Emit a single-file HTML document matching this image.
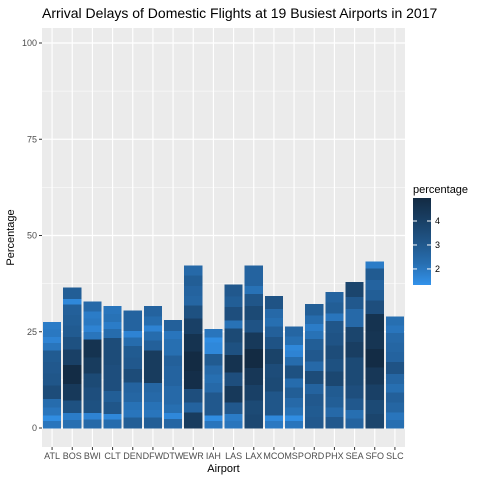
<!DOCTYPE html>
<html><head><meta charset="utf-8"><style>
body{margin:0;background:#fff;font-family:"Liberation Sans",sans-serif}
</style></head><body>
<svg id="chart" width="480" height="480" font-family="Liberation Sans, sans-serif"></svg>
<script>
const cats=["ATL","BOS","BWI","CLT","DEN","DFW","DTW","EWR","IAH","LAS","LAX","MCO","MSP","ORD","PHX","SEA","SFO","SLC"];
const seg_ATL=[2.0,1.4,2.0,2.3,3.5,3.1,3.0,2.9,2.0,1.6,1.9,1.8];
const seg_BOS=[2.2,1.8,3.3,4.3,4.9,4.0,3.3,2.9,2.8,2.7,1.5,2.8];
const seg_BWI=[2.4,1.6,3.3,3.4,3.6,4.2,4.6,2.0,1.6,1.9,1.8,2.4];
const seg_CLT=[2.3,1.5,3.1,2.8,3.4,3.4,3.5,3.5,2.3,1.8,2.1,2.0];
const seg_DEN=[2.8,2.0,2.1,2.5,2.6,3.5,3.0,2.9,2.3,1.6,2.6,2.6];
const seg_DFW=[2.8,2.0,2.1,2.4,2.5,4.2,4.2,2.7,2.3,1.6,2.3,2.6];
const seg_DTW=[2.5,1.5,2.2,2.4,2.4,2.6,2.6,2.7,2.2,2.2,2.0,2.7];
const seg_EWR=[4.2,2.6,3.4,4.8,5.0,4.6,4.0,3.3,2.5,2.6,2.8,2.4];
const seg_IAH=[2.0,1.4,3.0,3.0,2.4,2.2,2.4,2.9,1.5,1.5,1.4,2.0];
const seg_LAS=[2.0,1.8,3.0,4.3,3.4,4.6,3.3,3.6,2.1,3.4,2.8,3.0];
const seg_LAX=[3.7,3.6,4.0,4.4,5.0,4.3,3.2,3.6,3.1,2.1,2.6,2.6];
const seg_MCO=[1.9,1.5,3.1,3.1,3.6,3.5,3.9,3.2,2.7,2.2,2.4,3.2];
const seg_MSP=[2.0,1.4,2.1,2.4,2.8,2.3,3.3,2.3,1.6,1.5,2.2,2.5];
const seg_ORD=[3.0,2.9,3.0,2.6,3.5,2.4,3.0,2.8,2.1,1.8,2.3,2.8];
const seg_PHX=[3.0,2.4,2.8,2.9,3.7,3.3,3.5,3.2,3.1,2.0,2.8,2.6];
const seg_SEA=[2.6,2.2,3.0,3.4,3.6,3.6,4.1,3.8,2.4,2.4,3.0,3.8];
const seg_SFO=[3.8,3.6,4.0,4.4,4.9,4.5,4.6,3.4,2.8,2.6,2.9,1.8];
const seg_SLC=[2.2,2.0,2.5,2.7,2.2,2.5,3.2,2.6,2.5,2.4,2.0,2.2];
const segments=[seg_ATL,seg_BOS,seg_BWI,seg_CLT,seg_DEN,seg_DFW,seg_DTW,seg_EWR,seg_IAH,seg_LAS,seg_LAX,seg_MCO,seg_MSP,seg_ORD,seg_PHX,seg_SEA,seg_SFO,seg_SLC];
const yTicks=[0,25,50,75,100];
const legendTicks=[2,3,4];

const NS="http://www.w3.org/2000/svg";
const svg=document.getElementById('chart');
function mk(t,a,p){const e=document.createElementNS(NS,t);for(const k in a)e.setAttribute(k,a[k]);(p||svg).appendChild(e);return e;}
const PL=42,PR=405,PT=28,PB=447;
const y=v=>428-v*3.85;
const step=(PR-PL)/cats.length;
const x=i=>PL+step*(i+0.5);
const cmin=1.33,cmax=4.96;
const lo=[50,146,235],hi=[19,43,67];
function col(v){let t=(v-cmin)/(cmax-cmin);t=Math.max(0,Math.min(1,t));t=Math.pow(t,0.75);return 'rgb('+lo.map((c,k)=>Math.round(c+(hi[k]-c)*t)).join(',')+')';}

const bg=mk('rect',{x:PL,y:PT,width:PR-PL,height:PB-PT,fill:'#EBEBEB'});

yTicks.forEach((t,i)=>{
  if(i<yTicks.length-1){const m=(t+yTicks[i+1])/2;mk('line',{x1:PL,x2:PR,y1:y(m),y2:y(m),stroke:'#fff','stroke-width':0.6});}
  const g=mk('line',{x1:PL,x2:PR,y1:y(t),y2:y(t),stroke:'#fff','stroke-width':1.2});
  
  mk('line',{x1:PL-3,x2:PL,y1:y(t),y2:y(t),stroke:'#333'});
  const l=mk('text',{x:PL-5,y:y(t)+3,'text-anchor':'end','font-size':9,fill:'#4D4D4D'});l.textContent=t;
  
});
cats.forEach((c,i)=>{
  mk('line',{x1:x(i),x2:x(i),y1:PT,y2:PB,stroke:'#fff','stroke-width':1.2});
  const bw=step*0.9;let acc=0;
  segments[i].forEach(v=>{
    const r=mk('rect',{x:x(i)-bw/2,y:y(acc+v),width:bw,height:y(acc)-y(acc+v)+0.5,fill:col(v),'shape-rendering':'crispEdges'});
    
    
    acc+=v;
  });
  mk('line',{x1:x(i),x2:x(i),y1:PB,y2:PB+3,stroke:'#333'});
  const l=mk('text',{x:x(i),y:PB+12,'text-anchor':'middle','font-size':9,fill:'#4D4D4D'});l.textContent=c;
  
});
const title=mk('text',{x:PL,y:18,'font-size':14,fill:'#000'});title.textContent='Arrival Delays of Domestic Flights at 19 Busiest Airports in 2017';

const xt=mk('text',{x:(PL+PR)/2,y:472,'text-anchor':'middle','font-size':11});xt.textContent='Airport';

const yt=mk('text',{x:0,y:0,'text-anchor':'middle','font-size':11,transform:'translate(14,'+((PT+PB)/2)+') rotate(-90)'});yt.textContent='Percentage';

const lt=mk('text',{x:413,y:193,'font-size':11});lt.textContent='percentage';

const defs=mk('defs',{});const gr=mk('linearGradient',{id:'lg',x1:0,y1:1,x2:0,y2:0},defs);
[0,0.25,0.5,0.75,1].forEach(f=>mk('stop',{offset:f,'stop-color':col(cmin+f*(cmax-cmin))},gr));
const LT=198,LB=285;const ly=v=>LB-(v-cmin)/(cmax-cmin)*(LB-LT);
const cb=mk('rect',{x:413,y:LT,width:18,height:LB-LT,fill:'url(#lg)'});

legendTicks.forEach(t=>{
  mk('line',{x1:413,x2:417,y1:ly(t),y2:ly(t),stroke:'#fff'});
  mk('line',{x1:427,x2:431,y1:ly(t),y2:ly(t),stroke:'#fff'});
  const l=mk('text',{x:435,y:ly(t)+3,'font-size':9,fill:'#000'});l.textContent=t;
  
});
</script>
</body></html>
